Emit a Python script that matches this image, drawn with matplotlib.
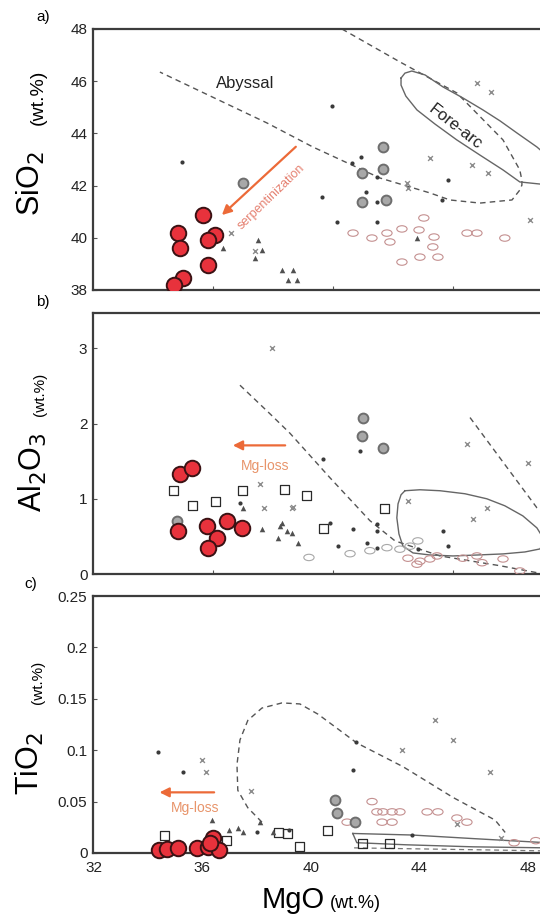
import numpy as np
import matplotlib
matplotlib.use('Agg')
import matplotlib.pyplot as plt
from matplotlib.path import Path
from matplotlib.transforms import Affine2D

plt.rcParams['font.family'] = ['Liberation Sans']

# ---------------- panel a : SiO2 vs MgO ----------------
a_red_mgo = [35.67, 34.83, 34.9, 36.07, 35.83, 35.83, 35.0, 34.7]
a_red_si = [40.87, 40.18, 39.6, 40.1, 39.9, 38.96, 38.46, 38.2]

a_dot_mgo = [34.97, 39.97, 40.93, 40.63, 41.47, 41.1, 41.47, 39.63, 40.13, 41.47, 43.83, 43.63]
a_dot_si = [42.9, 45.05, 43.1, 42.87, 42.33, 41.75, 41.37, 41.56, 40.6, 40.6, 42.21, 41.45]

a_ring_mgo = [37.0, 41.67, 40.97, 41.67, 40.97, 41.77]
a_ring_si = [42.1, 43.48, 42.48, 42.64, 41.37, 41.45]

a_x_mgo = [43.23, 44.63, 45.17, 44.8, 45.27, 46.57, 42.47, 42.5, 36.6, 37.4]
a_x_si = [43.06, 42.79, 42.48, 45.93, 45.59, 40.68, 42.1, 41.9, 40.2, 39.5]

a_tri_mgo = [37.5, 37.63, 37.4, 38.3, 38.67, 38.5, 38.8, 42.8, 36.33]
a_tri_si = [39.92, 39.53, 39.23, 38.77, 38.77, 38.38, 38.38, 39.99, 39.6]

a_pink_mgo = [40.67, 41.3, 41.8, 41.9, 42.3, 42.87, 43.03, 43.37, 43.33, 43.5, 42.9, 42.3, 44.47, 44.8, 45.73]
a_pink_si = [40.18, 39.99, 40.18, 39.84, 40.34, 40.3, 40.76, 40.03, 39.65, 39.26, 39.26, 39.07, 40.18, 40.18, 39.99]

# abyssal field (dashed) and fore-arc field (solid)
a_aby_mgo = [40.3, 42.23, 44.13, 45.67, 46.23, 46.3, 46.3, 46.23, 45.97, 44.9, 43.9, 43.23, 41.57, 39.33, 37.8, 34.23]
a_aby_si = [48.0, 46.74, 45.55, 43.75, 42.6, 42.2, 42.02, 41.83, 41.45, 41.33, 41.45, 41.72, 42.29, 43.48, 44.4, 46.35]
a_fa_mgo = [42.27, 42.4, 42.63, 43.07, 43.67, 44.33, 45.0, 45.57, 46.13, 46.8, 47.3, 47.5, 47.3,
            46.9, 46.23, 45.67, 44.9, 44.13, 43.4, 42.8, 42.43, 42.27, 42.27]
a_fa_si = [46.12, 46.31, 46.39, 46.24, 45.78, 45.36, 44.9, 44.48, 44.02, 43.48, 42.98, 42.52, 42.18,
           42.06, 42.14, 42.6, 43.17, 43.75, 44.36, 44.9, 45.43, 45.85, 46.12]

# ---------------- panel b : Al2O3 vs MgO ----------------
b_red_mgo = [34.9, 35.3, 34.83, 35.8, 36.13, 35.83, 36.47, 36.97]
b_red_al = [1.33, 1.41, 0.57, 0.64, 0.48, 0.35, 0.71, 0.61]

b_sq_mgo = [34.67, 35.33, 36.1, 37.0, 38.4, 39.13, 39.67, 41.73]
b_sq_al = [1.11, 0.91, 0.97, 1.11, 1.13, 1.04, 0.61, 0.87]

b_ring_mgo = [41.0, 40.97, 41.67, 34.8]
b_ring_al = [2.08, 1.84, 1.67, 0.71]

b_dot_mgo = [40.9, 39.67, 39.9, 40.67, 41.47, 41.47, 40.17, 41.13, 41.47, 43.67, 43.83, 42.83, 36.9]
b_dot_al = [1.64, 1.53, 0.68, 0.6, 0.67, 0.57, 0.37, 0.41, 0.35, 0.57, 0.37, 0.33, 0.95]

b_tri_mgo = [37.0, 37.63, 38.23, 38.17, 38.47, 38.63, 38.83, 38.3]
b_tri_al = [0.88, 0.6, 0.64, 0.48, 0.57, 0.55, 0.41, 0.68]

b_x_mgo = [37.97, 44.47, 46.5, 45.13, 44.67, 42.5, 38.67, 37.57, 38.63, 37.7]
b_x_al = [3.01, 1.73, 1.48, 0.88, 0.73, 0.97, 0.89, 1.2, 0.88, 0.88]

b_pink_mgo = [42.5, 42.9, 43.23, 43.47, 42.8, 44.33, 44.8, 44.97, 45.67, 46.23]
b_pink_al = [0.21, 0.17, 0.2, 0.24, 0.13, 0.21, 0.24, 0.15, 0.2, 0.04]
b_open_mgo = [40.57, 41.23, 41.8, 42.23, 42.57, 42.83, 39.2]
b_open_al = [0.27, 0.31, 0.35, 0.33, 0.37, 0.44, 0.22]

b_aby1_mgo = [36.9, 37.9, 38.57, 39.9, 41.23, 42.07, 43.57, 45.57, 46.9, 47.3]
b_aby1_al = [2.51, 2.13, 1.87, 1.28, 0.71, 0.44, 0.24, 0.11, 0.01, 0.0]
b_aby2_mgo = [44.57, 46.8, 47.1]
b_aby2_al = [2.08, 0.88, 0.8]
b_fa_mgo = [42.4, 42.9, 43.57, 44.4, 45.13, 45.73, 46.33, 46.8, 47.07, 46.9, 46.4, 45.67, 44.83,
            44.0, 43.23, 42.67, 42.33, 42.2, 42.13, 42.17, 42.27, 42.4]
b_fa_al = [1.107, 1.12, 1.107, 1.067, 1.0, 0.907, 0.773, 0.613, 0.44, 0.333, 0.293, 0.267, 0.253,
           0.24, 0.253, 0.28, 0.373, 0.533, 0.747, 0.933, 1.053, 1.107]

# ---------------- panel c : TiO2 vs MgO ----------------
c_red_mgo = [34.4, 34.7, 35.1, 35.8, 36.2, 36.4, 36.6, 36.3]
c_red_ti = [0.003, 0.004, 0.005, 0.005, 0.006, 0.015, 0.003, 0.01]

c_dot_mgo = [34.36, 35.28, 41.67, 41.56, 43.73, 39.2, 38.0]
c_dot_ti = [0.098, 0.079, 0.108, 0.081, 0.0175, 0.022, 0.02]

c_x_mgo = [35.99, 36.13, 44.58, 45.25, 43.37, 46.6, 37.8, 45.4, 47.0]
c_x_ti = [0.09, 0.079, 0.129, 0.11, 0.1, 0.079, 0.06, 0.028, 0.015]

c_tri_mgo = [36.35, 37.0, 37.5, 38.13, 38.6, 37.3]
c_tri_ti = [0.032, 0.022, 0.02, 0.03, 0.02, 0.024]

c_sq_mgo = [34.6, 39.16, 39.6, 40.6, 41.92, 42.92, 38.8, 36.9]
c_sq_ti = [0.0175, 0.019, 0.006, 0.022, 0.0097, 0.0097, 0.02, 0.012]

c_ring_mgo = [40.89, 40.97, 41.63]
c_ring_ti = [0.052, 0.039, 0.03]

c_pink_mgo = [41.34, 42.26, 42.44, 42.66, 43.0, 43.29, 42.63, 43.0, 44.29, 44.69, 45.39, 45.76, 47.5, 48.3]
c_pink_ti = [0.03, 0.05, 0.04, 0.04, 0.04, 0.04, 0.03, 0.03, 0.04, 0.04, 0.034, 0.03, 0.01, 0.012]

c_aby_mgo = [38.2, 37.68, 37.31, 37.28, 37.39, 37.68, 38.2, 38.94, 39.6, 40.27, 41.7, 43.4, 45.25, 46.8, 47.17]
c_aby_ti = [0.030, 0.044, 0.061, 0.086, 0.110, 0.129, 0.141, 0.146, 0.145, 0.135, 0.107, 0.084, 0.054, 0.032, 0.020]
c_aby2_mgo = [41.6, 44.0, 46.5, 48.7]
c_aby2_ti = [0.005, 0.004, 0.003, 0.002]
c_fa_mgo = [41.55, 43.73, 46.0, 48.7, 48.7, 46.0, 43.5, 41.7, 41.55]
c_fa_ti = [0.019, 0.0175, 0.014, 0.010, 0.005, 0.006, 0.008, 0.010, 0.019]

# ---------------- styles ----------------
red_fc = '#e8323c'
red_ec = '#3a1214'
ell = Path.unit_circle().transformed(Affine2D().scale(1.0, 0.62))
orange = '#ec6a38'


def px_box(left, top, right, bottom):
    return [left / 540, 1 - bottom / 917, (right - left) / 540, (bottom - top) / 917]


def fig_xy(x, y):
    return x / 540, 1 - y / 917


def draw_points(ax, red, dots, rings, xs, tris, pinks, squares=None, opens=None):
    ax.scatter(*pinks, marker=ell, s=55, facecolors='none', edgecolors='#c49090', linewidths=0.8, zorder=3)
    if opens is not None:
        ax.scatter(*opens, marker=ell, s=55, facecolors='none', edgecolors='#a8a8a8', linewidths=0.8, zorder=3)
    if squares is not None:
        ax.scatter(*squares, marker='s', s=42, facecolors='none', edgecolors='#2a2a2a', linewidths=0.9, zorder=3)
    ax.scatter(*xs, marker='x', s=12, color='#8c8c8c', linewidths=1.0, zorder=3)
    ax.scatter(*tris, marker='^', s=16, color='#505050', linewidths=0, zorder=3)
    ax.scatter(*rings, marker='o', s=50, facecolors='#a8a8a8', edgecolors='#6e6e6e', linewidths=1.4, zorder=3)
    ax.scatter(*dots, marker='o', s=9, color='#3a3a3a', linewidths=0, zorder=3)
    ax.scatter(*red, marker='o', s=125, facecolors=red_fc, edgecolors=red_ec, linewidths=1.4, zorder=5)


def style_axes(ax):
    for sp in ['left', 'top', 'bottom', 'right']:
        ax.spines[sp].set_linewidth(1.6)
        ax.spines[sp].set_color('#3c3c3c')
    ax.tick_params(direction='in', length=3, width=0.8, color='#555555', labelsize=11,
                   labelcolor='#222222', pad=4)


fig = plt.figure(figsize=(5.4, 9.17), dpi=100)

# ---- a ----
axa = fig.add_axes(px_box(93, 29, 548, 290))
axa.set_xlim(32, 47.17)
axa.set_ylim(38, 48)
axa.plot(a_aby_mgo, a_aby_si, ls=(0, (4, 3)), color='#555555', lw=1.0, zorder=2)
axa.plot(a_fa_mgo, a_fa_si, ls='-', color='#666666', lw=1.0, zorder=2)
draw_points(axa, (a_red_mgo, a_red_si), (a_dot_mgo, a_dot_si), (a_ring_mgo, a_ring_si),
            (a_x_mgo, a_x_si), (a_tri_mgo, a_tri_si), (a_pink_mgo, a_pink_si))
axa.annotate('', xy=(36.23, 40.8), xytext=(38.83, 43.56),
             arrowprops=dict(arrowstyle='-|>', color=orange, lw=1.6, mutation_scale=14), zorder=4)
axa.text(37.95, 41.55, 'serpentinization', rotation=44, color='#e58070', fontsize=9,
         ha='center', va='center', zorder=4)
axa.text(37.07, 45.93, 'Abyssal', fontsize=12, ha='center', va='center', color='#222222')
axa.text(44.07, 44.25, 'Fore-arc', fontsize=12, rotation=-38, ha='center', va='center', color='#222222')
axa.set_xticks([36, 40, 44])
axa.set_xticklabels([])
axa.set_yticks([38, 40, 42, 44, 46, 48])
style_axes(axa)

# ---- b ----
axb = fig.add_axes(px_box(93, 313, 548, 574))
axb.set_xlim(32, 47.17)
axb.set_ylim(0, 3.47)
axb.plot(b_aby1_mgo, b_aby1_al, ls=(0, (4, 3)), color='#555555', lw=1.0, zorder=2)
axb.plot(b_aby2_mgo, b_aby2_al, ls=(0, (4, 3)), color='#555555', lw=1.0, zorder=2)
axb.plot(b_fa_mgo, b_fa_al, ls='-', color='#666666', lw=1.0, zorder=2)
draw_points(axb, (b_red_mgo, b_red_al), (b_dot_mgo, b_dot_al), (b_ring_mgo, b_ring_al),
            (b_x_mgo, b_x_al), (b_tri_mgo, b_tri_al), (b_pink_mgo, b_pink_al),
            squares=(b_sq_mgo, b_sq_al), opens=(b_open_mgo, b_open_al))
axb.annotate('', xy=(36.57, 1.71), xytext=(38.5, 1.71),
             arrowprops=dict(arrowstyle='-|>', color=orange, lw=1.6, mutation_scale=14), zorder=4)
axb.text(37.73, 1.43, 'Mg-loss', color='#e8946a', fontsize=10, ha='center', va='center')
axb.set_xticks([36, 40, 44])
axb.set_xticklabels([])
axb.set_yticks([0, 1, 2, 3])
style_axes(axb)

# ---- c ----
axc = fig.add_axes(px_box(93, 596, 548, 853))
axc.set_xlim(31.97, 48.75)
axc.set_ylim(0, 0.25)
axc.plot(c_aby_mgo, c_aby_ti, ls=(0, (4, 3)), color='#555555', lw=1.0, zorder=2)
axc.plot(c_aby2_mgo, c_aby2_ti, ls=(0, (4, 3)), color='#777777', lw=0.9, zorder=2)
axc.plot(c_fa_mgo, c_fa_ti, ls='-', color='#666666', lw=1.0, zorder=2)
draw_points(axc, (c_red_mgo, c_red_ti), (c_dot_mgo, c_dot_ti), (c_ring_mgo, c_ring_ti),
            (c_x_mgo, c_x_ti), (c_tri_mgo, c_tri_ti), (c_pink_mgo, c_pink_ti),
            squares=(c_sq_mgo, c_sq_ti))
for coll in axc.collections:
    coll.set_clip_on(False)
axc.annotate('', xy=(34.32, 0.059), xytext=(36.54, 0.059),
             arrowprops=dict(arrowstyle='-|>', color=orange, lw=1.6, mutation_scale=14), zorder=4)
axc.text(35.73, 0.044, 'Mg-loss', color='#e8946a', fontsize=10, ha='center', va='center')
axc.set_xticks([32, 36, 40, 44, 48])
axc.set_yticks([0, 0.05, 0.1, 0.15, 0.2, 0.25])
axc.set_yticklabels(['0', '0.05', '0.1', '0.15', '0.2', '0.25'])
style_axes(axc)
axc.tick_params(axis='x', length=0, pad=6)

# ---- axis titles and panel letters ----
fig.text(*fig_xy(31, 216), 'SiO$_2$', rotation=90, fontsize=22, ha='center', va='bottom')
fig.text(*fig_xy(38, 70), '(wt.%)', rotation=90, fontsize=14, ha='center', va='top')
fig.text(*fig_xy(33, 512), 'Al$_2$O$_3$', rotation=90, fontsize=22, ha='center', va='bottom')
fig.text(*fig_xy(40, 373), '(wt.%)', rotation=90, fontsize=11, ha='center', va='top')
fig.text(*fig_xy(30, 795), 'TiO$_2$', rotation=90, fontsize=22, ha='center', va='bottom')
fig.text(*fig_xy(38, 661), '(wt.%)', rotation=90, fontsize=11, ha='center', va='top')
fig.text(*fig_xy(262, 914), 'MgO', fontsize=21, ha='left', va='bottom')
fig.text(*fig_xy(330, 912), '(wt.%)', fontsize=13, ha='left', va='bottom')

fig.text(*fig_xy(36, 17), 'a)', fontsize=11, ha='left', va='center')
fig.text(*fig_xy(36, 302), 'b)', fontsize=11, ha='left', va='center')
fig.text(*fig_xy(24, 584), 'c)', fontsize=11, ha='left', va='center')

fig.savefig('out.png', dpi=100)
